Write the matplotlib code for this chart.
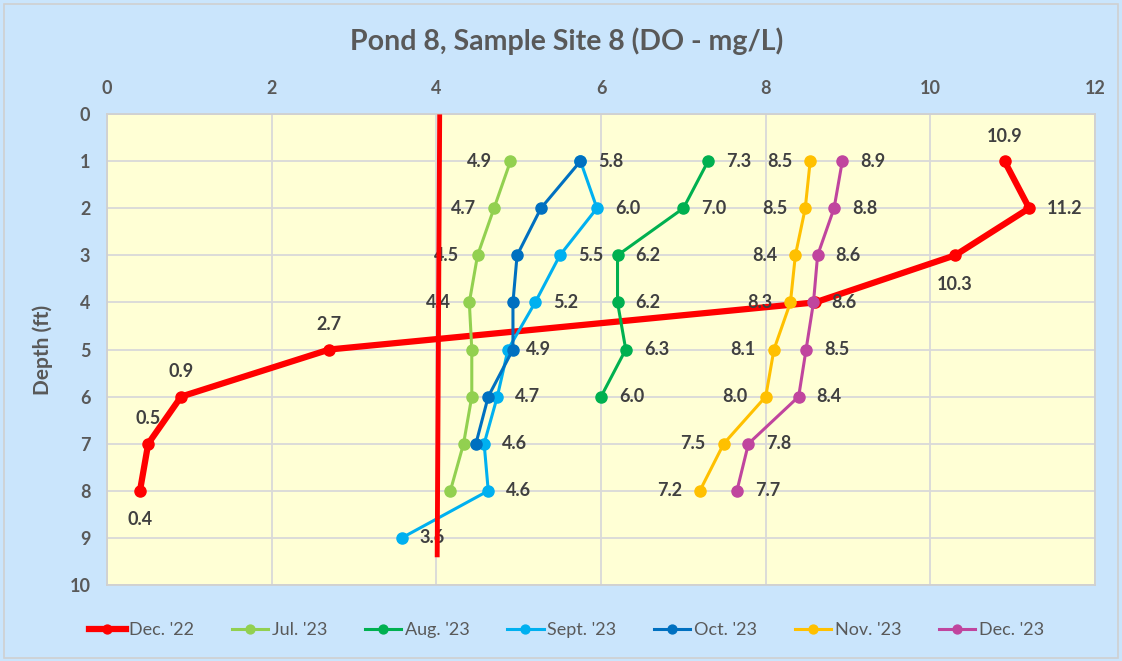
import matplotlib
matplotlib.use("Agg")
import matplotlib.pyplot as plt
from matplotlib.patches import Rectangle

plt.rcParams['font.family'] = ['Lato', 'DejaVu Sans']

# depths (ft) and DO readings (mg/L)
depth_dec22 = [1, 2, 3, 4, 5, 6, 7, 8]
do_dec22 = [10.9, 11.2, 10.3, 8.6, 2.7, 0.9, 0.5, 0.4]
depth_jul23 = [1, 2, 3, 4, 5, 6, 7, 8]
do_jul23 = [4.9, 4.7, 4.5, 4.4, 4.43, 4.43, 4.33, 4.17]
depth_aug23 = [1, 2, 3, 4, 5, 6]
do_aug23 = [7.3, 7.0, 6.2, 6.2, 6.3, 6.0]
depth_sep23 = [1, 2, 3, 4, 5, 6, 7, 8, 9]
do_sep23 = [5.75, 5.95, 5.5, 5.2, 4.87, 4.74, 4.58, 4.63, 3.58]
depth_oct23 = [1, 2, 3, 4, 5, 6, 7]
do_oct23 = [5.75, 5.27, 4.98, 4.93, 4.93, 4.63, 4.48]
depth_nov23 = [1, 2, 3, 4, 5, 6, 7, 8]
do_nov23 = [8.54, 8.48, 8.36, 8.3, 8.1, 8.0, 7.49, 7.2]
depth_dec23 = [1, 2, 3, 4, 5, 6, 7, 8]
do_dec23 = [8.93, 8.83, 8.63, 8.58, 8.49, 8.4, 7.79, 7.65]

# 4 mg/L reference line
ref_x = [4.04, 4.01]
ref_y = [0.06, 9.36]

series = [
    ("Dec. '22", do_dec22, depth_dec22, '#FF0000', 4.5,
     ['up', 'right', 'down', None, 'up', 'up', 'up', 'down']),
    ("Jul. '23", do_jul23, depth_jul23, '#92D050', 2.2,
     ['left', 'left', 'left', 'left', None, None, None, None]),
    ("Aug. '23", do_aug23, depth_aug23, '#00B050', 2.2, ['right'] * 6),
    ("Sept. '23", do_sep23, depth_sep23, '#00B0F0', 2.2, ['right'] * 9),
    ("Oct. '23", do_oct23, depth_oct23, '#0070C0', 2.2, [None] * 7),
    ("Nov. '23", do_nov23, depth_nov23, '#FFC000', 2.2, ['left'] * 8),
    ("Dec. '23", do_dec23, depth_dec23, '#C0459E', 2.2, ['right'] * 8),
]

fig = plt.figure(figsize=(11.22, 6.61), dpi=100)
fig.patch.set_facecolor('#CAE5FC')
fig.patches.append(Rectangle((0.004, 0.004), 0.992, 0.99, transform=fig.transFigure,
                             fill=False, edgecolor='#D0D0D0', linewidth=1.2))

ax = fig.add_axes([0.0954, 0.115, 0.8806, 0.7125])
ax.set_facecolor('#FFFFD5')

lbl = dict(fontsize=13, fontweight='bold', color='#404040', textcoords='offset points')
for name, xs, ys, col, lw, pos in series:
    ax.plot(xs, ys, '-o', color=col, lw=lw, markersize=8, label=name)
    for x, y, p in zip(xs, ys, pos):
        if p is None:
            continue
        txt = f"{x:.1f}"
        if p == 'right':
            ax.annotate(txt, (x, y), xytext=(13, 0), ha='left', va='center', **lbl)
        elif p == 'left':
            ax.annotate(txt, (x, y), xytext=(-13, 0), ha='right', va='center', **lbl)
        elif p == 'up':
            ax.annotate(txt, (x, y), xytext=(0, 18), ha='center', va='center', **lbl)
        else:
            ax.annotate(txt, (x, y), xytext=(0, -21), ha='center', va='center', **lbl)

ax.plot(ref_x, ref_y, color='#FF0000', lw=3.5, zorder=5)

ax.set_xlim(0, 12)
ax.set_ylim(10, 0)
ax.set_xticks(range(0, 13, 2))
ax.set_yticks(range(0, 11))
ax.xaxis.tick_top()
ax.tick_params(length=0, labelsize=13, labelcolor='#595959', pad=12)
for lab in ax.get_xticklabels() + ax.get_yticklabels():
    lab.set_fontweight('bold')
ax.grid(True, color='#D9D9D9', lw=1.3)
ax.set_axisbelow(True)
for s in ax.spines.values():
    s.set_color('#D0D0D0')
    s.set_linewidth(1.3)

ax.set_ylabel('Depth (ft)', fontsize=15, fontweight='bold', color='#595959', labelpad=12)

fig.text(0.505, 0.937, 'Pond 8, Sample Site 8 (DO - mg/L)', ha='center', va='center',
         fontsize=20.5, fontweight='bold', color='#595959')

fig.legend(loc='center', bbox_to_anchor=(0.505, 0.047), ncol=7, frameon=False,
           fontsize=13, handlelength=2.0, columnspacing=2.1, handletextpad=0.2,
           markerscale=0.8, labelcolor='#595959')

fig.savefig('out.png', dpi=100, facecolor=fig.get_facecolor())
